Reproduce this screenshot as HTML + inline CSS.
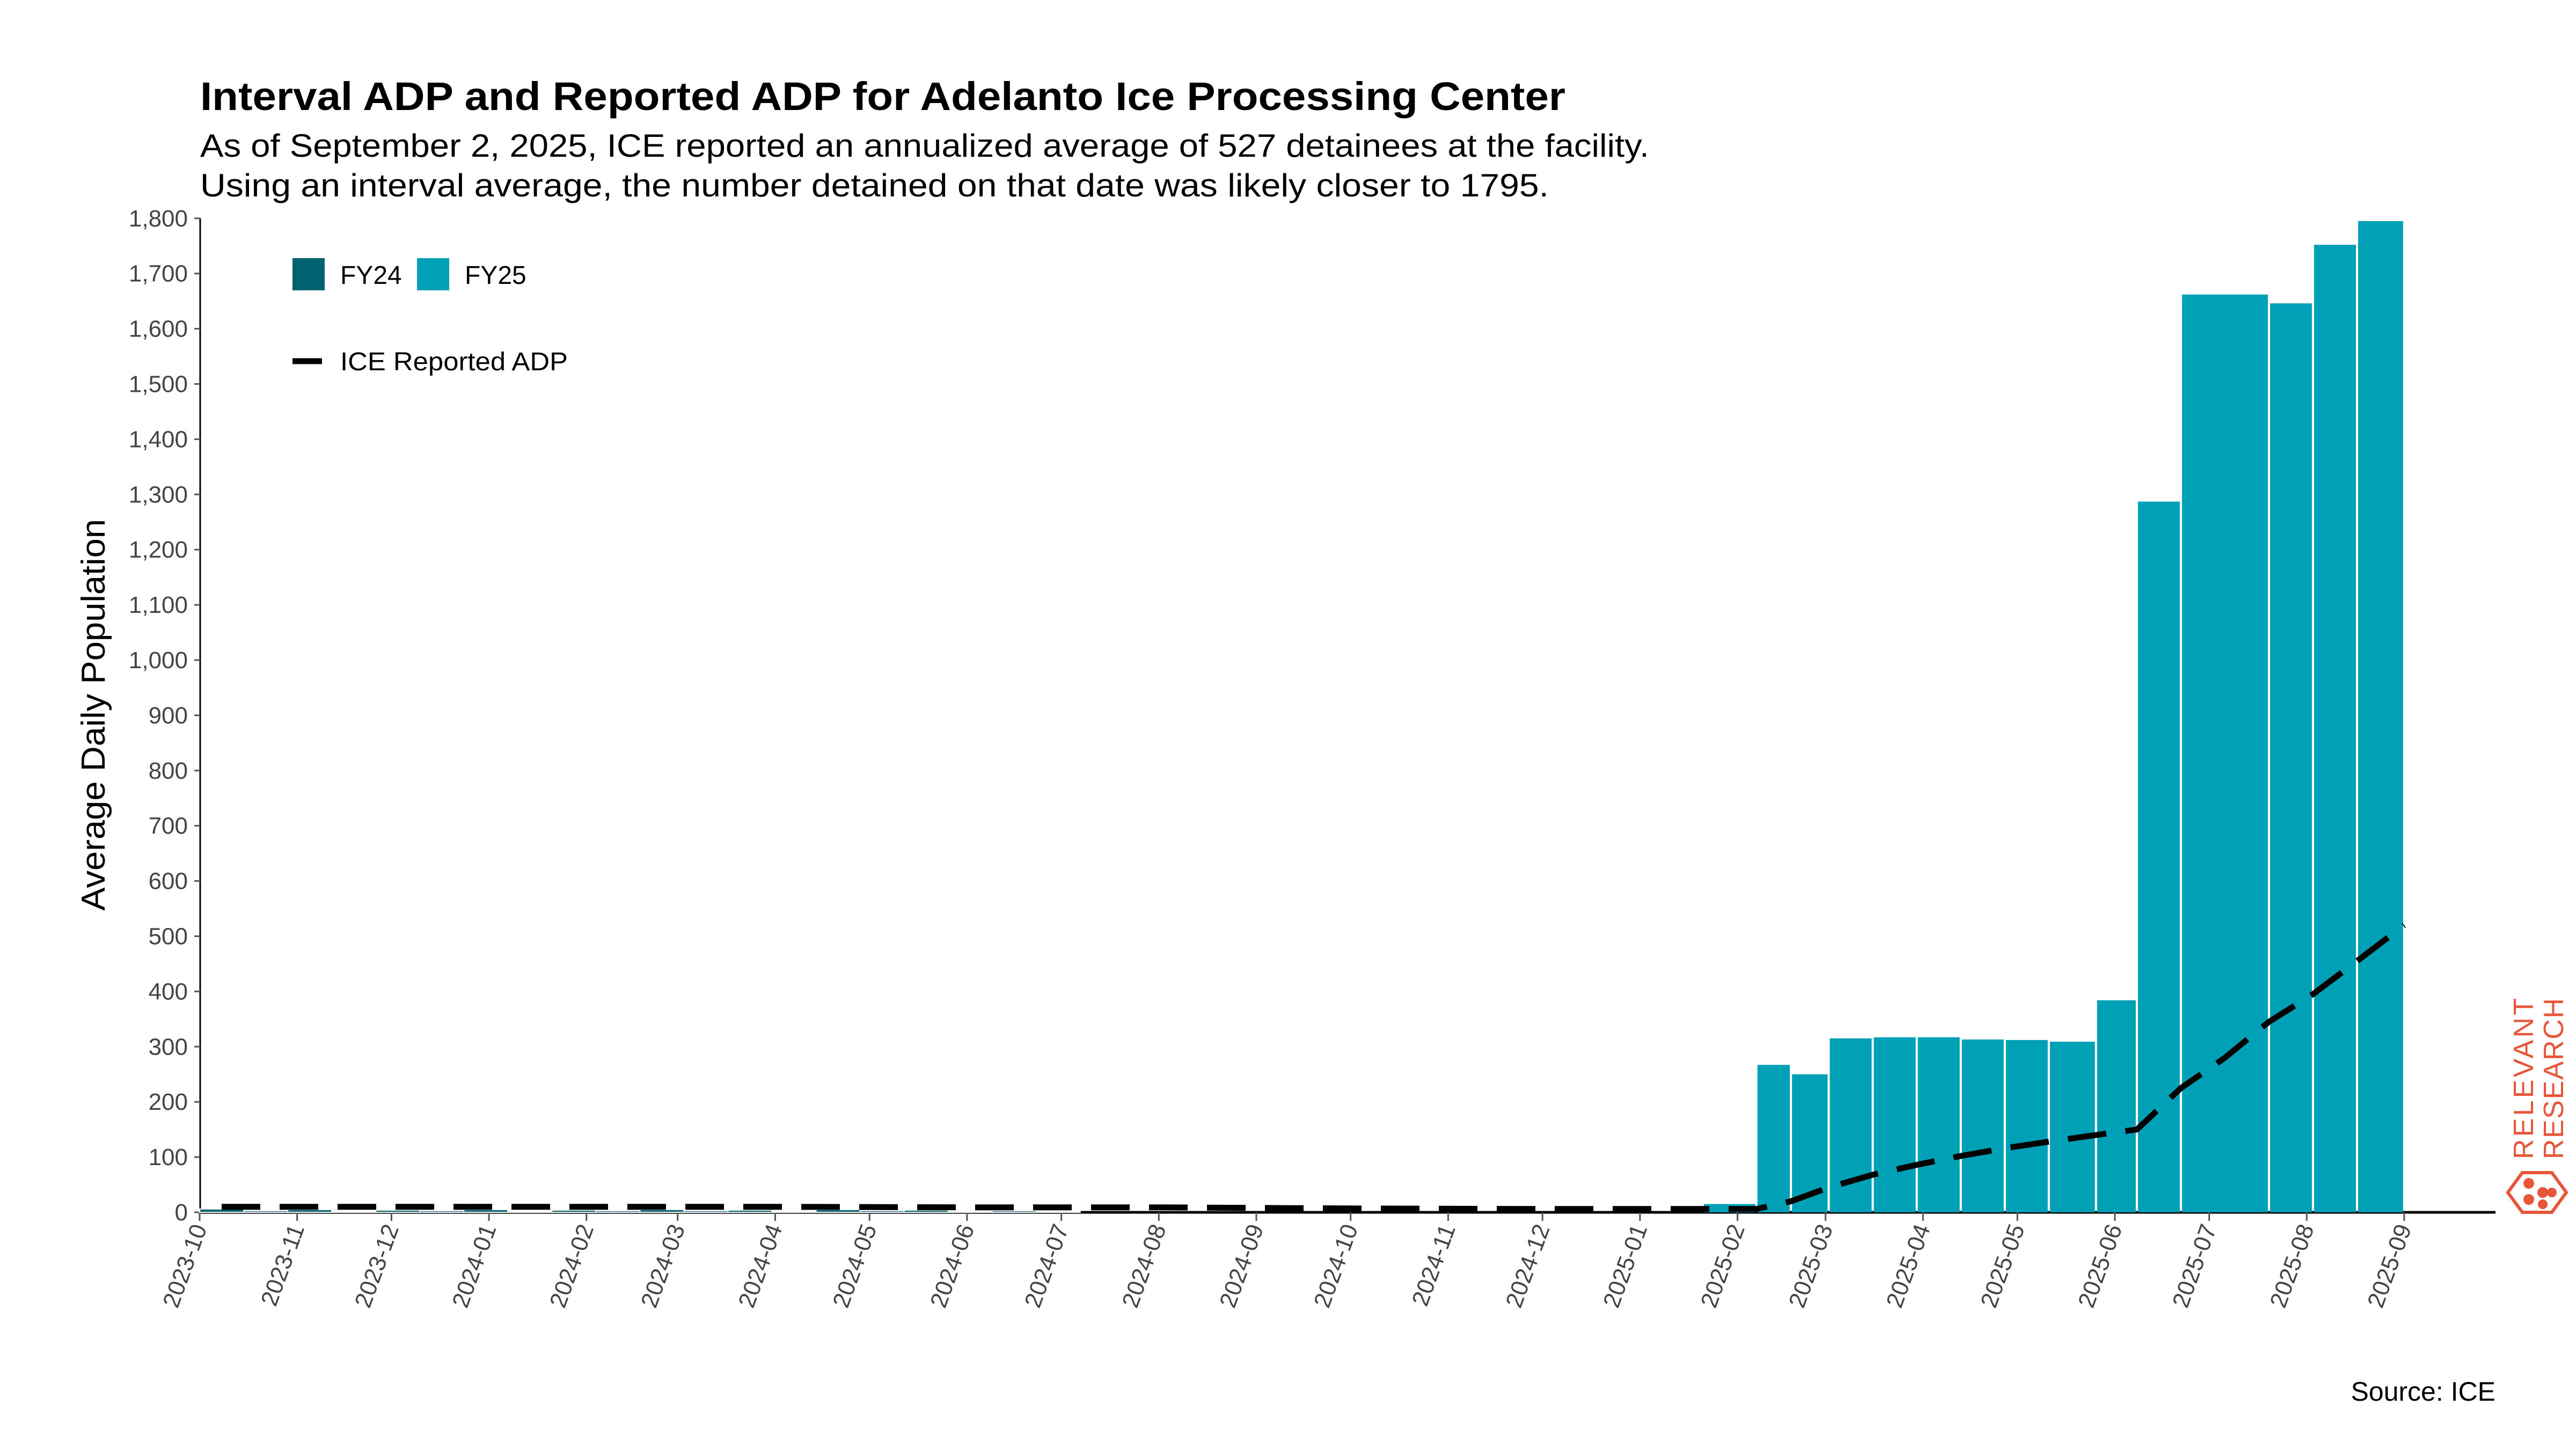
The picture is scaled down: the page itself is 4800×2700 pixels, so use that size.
<!DOCTYPE html>
<html><head><meta charset="utf-8"><style>
html,body{margin:0;padding:0;background:#fff;}
svg{display:block;}
text{font-family:"Liberation Sans","DejaVu Sans",sans-serif;}
</style></head><body>
<svg id="chart" width="4800" height="2700" viewBox="0 0 4800 2700" xmlns="http://www.w3.org/2000/svg">
<text x="373" y="205" font-size="74" font-weight="bold" fill="#000" textLength="2544" lengthAdjust="spacingAndGlyphs">Interval ADP and Reported ADP for Adelanto Ice Processing Center</text>
<text x="373" y="292" font-size="60" fill="#000" textLength="2700" lengthAdjust="spacingAndGlyphs">As of September 2, 2025, ICE reported an annualized average of 527 detainees at the facility.</text>
<text x="373" y="366" font-size="60" fill="#000" textLength="2513" lengthAdjust="spacingAndGlyphs">Using an interval average, the number detained on that date was likely closer to 1795.</text>
<text transform="translate(195,1332) rotate(-90)" text-anchor="middle" font-size="62" fill="#000" textLength="730" lengthAdjust="spacingAndGlyphs">Average Daily Population</text>
<g id="yaxis"></g>
<g id="xaxis"></g>
<g id="bars"></g>
<g id="line"></g>
<g>
<rect x="545" y="481" width="60" height="60" fill="#00616f"/>
<text x="634" y="529" font-size="48" fill="#000">FY24</text>
<rect x="777" y="481" width="60" height="60" fill="#00a0b6"/>
<text x="866" y="529" font-size="48" fill="#000">FY25</text>
<line x1="545" y1="673" x2="600" y2="673" stroke="#000" stroke-width="11"/>
<text x="634" y="690" font-size="48" fill="#000" textLength="424" lengthAdjust="spacingAndGlyphs">ICE Reported ADP</text>
</g>
<text x="4650" y="2610" text-anchor="end" font-size="50" fill="#000">Source: ICE</text>
<g fill="#e8563a">
<text transform="translate(4720,2160) rotate(-90)" font-size="52" textLength="300" lengthAdjust="spacing">RELEVANT</text>
<text transform="translate(4776,2160) rotate(-90)" font-size="52" textLength="300" lengthAdjust="spacing">RESEARCH</text>
<polygon points="4700,2185 4755,2185 4782,2222 4755,2259 4700,2259 4673,2222" fill="none" stroke="#e8563a" stroke-width="6"/>
<circle cx="4712" cy="2205" r="10"/><circle cx="4712" cy="2235" r="10"/><circle cx="4738" cy="2222" r="10"/><circle cx="4755" cy="2222" r="9"/><circle cx="4738" cy="2244" r="9"/>
</g>
</svg>
<script>
const fy24Starts=['2023-10-01','2023-10-15','2023-10-29','2023-11-12','2023-11-26','2023-12-10','2023-12-24','2024-01-07','2024-01-21','2024-02-04','2024-02-18','2024-03-03','2024-03-17','2024-03-31','2024-04-14','2024-04-28','2024-05-12','2024-05-26','2024-06-09','2024-06-23'];
const fy24Values=[6,3,5,2,4,3,5,2,4,3,5,3,4,2,5,3,4,2,3,2];
const fy25Starts=['2025-01-21','2025-02-07','2025-02-18','2025-03-02','2025-03-16','2025-03-30','2025-04-13','2025-04-27','2025-05-11','2025-05-26','2025-06-08','2025-06-22','2025-07-20','2025-08-03','2025-08-17'];
const fy25Ends=['2025-02-07','2025-02-18','2025-03-02','2025-03-16','2025-03-30','2025-04-13','2025-04-27','2025-05-11','2025-05-26','2025-06-08','2025-06-22','2025-07-20','2025-08-03','2025-08-17','2025-09-01'];
const fy25Values=[15,267,250,315,317,317,313,312,309,384,1287,1662,1646,1752,1795];
const lineDates=['2023-10-08','2023-12-01','2024-02-01','2024-04-01','2024-06-01','2024-08-01','2024-10-01','2024-12-01','2025-02-07','2025-02-18','2025-03-02','2025-03-16','2025-03-30','2025-04-13','2025-04-27','2025-05-11','2025-05-26','2025-06-08','2025-06-22','2025-07-06','2025-07-20','2025-08-03','2025-08-17','2025-09-01'];
const lineValues=[10,10,10,10,9,9,7,6,6,20,45,68,86,102,116,128,140,150,225,280,345,395,455,520];
const yTicks=[0,100,200,300,400,500,600,700,800,900,1000,1100,1200,1300,1400,1500,1600,1700,1800];
const xTickLabels=['2023-10','2023-11','2023-12','2024-01','2024-02','2024-03','2024-04','2024-05','2024-06','2024-07','2024-08','2024-09','2024-10','2024-11','2024-12','2025-01','2025-02','2025-03','2025-04','2025-05','2025-06','2025-07','2025-08','2025-09'];

const NS='http://www.w3.org/2000/svg';
const T0=Date.UTC(2023,9,1);
function days(s){const p=s.split('-').map(Number);return (Date.UTC(p[0],p[1]-1,p[2]||1)-T0)/86400000;}
function xs(s){return 372+days(s)*5.86;}
function ys(v){return 2259-v*1.029;}
function mk(tag,attrs,parent){const e=document.createElementNS(NS,tag);for(const k in attrs)e.setAttribute(k,attrs[k]);parent.appendChild(e);return e;}

const ya=document.getElementById('yaxis');
const yl=mk('line',{x1:373,y1:ys(1800),x2:373,y2:2259,stroke:'#000','stroke-width':3},ya);


yTicks.forEach(v=>{
  const tk=mk('line',{x1:362,y1:ys(v),x2:373,y2:ys(v),stroke:'#555','stroke-width':3},ya);
  
  
  const t=mk('text',{x:350,y:ys(v)+15,'text-anchor':'end','font-size':44,fill:'#444'},ya);
  t.textContent=v.toLocaleString('en-US');
  
  
});

const bg=document.getElementById('bars');
fy24Starts.forEach((s,i)=>{
  const x0=xs(s), x1=(i+1<fy24Starts.length?xs(fy24Starts[i+1]):x0+82);
  const r=mk('rect',{x:x0,y:ys(fy24Values[i]),width:x1-x0,height:2259-ys(fy24Values[i]),fill:'#00616f',stroke:'#fff','stroke-width':2},bg);
  
  
});
fy25Starts.forEach((s,i)=>{
  const x0=xs(s), x1=xs(fy25Ends[i]);
  const r=mk('rect',{x:x0+2,y:ys(fy25Values[i]),width:x1-x0-4,height:2259-ys(fy25Values[i]),fill:'#00a0b6'},bg);
  
  
});

const xa=document.getElementById('xaxis');
const xl=mk('line',{x1:373,y1:2259,x2:4650,y2:2259,stroke:'#000','stroke-width':5},xa);


xTickLabels.forEach(lbl=>{
  const x=xs(lbl+'-01');
  const tk=mk('line',{x1:x,y1:2259,x2:x,y2:2275,stroke:'#555','stroke-width':3},xa);
  
  
  const t=mk('text',{transform:`translate(${x+14},2288) rotate(-70)`,'text-anchor':'end','font-size':44,fill:'#444'},xa);
  t.textContent=lbl;
  
  
});

const lg=document.getElementById('line');
const pts=lineDates.map((d,i)=>xs(d).toFixed(1)+','+ys(lineValues[i]).toFixed(1)).join(' ');
const pl=mk('polyline',{points:pts,fill:'none',stroke:'#000','stroke-width':11,'stroke-dasharray':'72 36','stroke-linejoin':'round'},lg);


</script>
</body></html>
